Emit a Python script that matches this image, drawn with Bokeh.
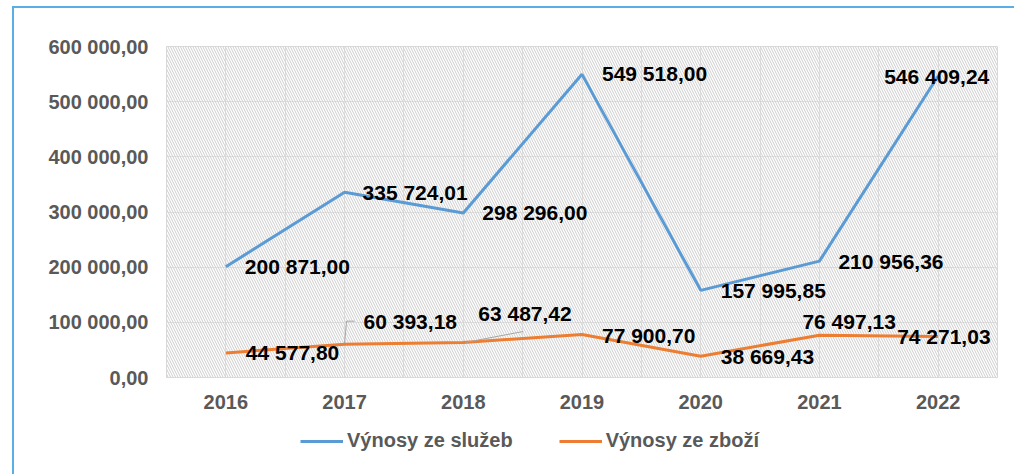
from bokeh.plotting import figure
from bokeh.layouts import column
from bokeh.models import (Range1d, FixedTicker, BoxAnnotation, Legend, LegendItem,
                          ColumnDataSource)
from bokeh.core.properties import value
from bokeh.embed import file_html
from bokeh.resources import INLINE

# ---- data ----
years = [2016, 2017, 2018, 2019, 2020, 2021, 2022]
sluzby = [200871.00, 335724.01, 298296.00, 549518.00, 157995.85, 210956.36, 546409.24]
zbozi = [44577.80, 60393.18, 63487.42, 77900.70, 38669.43, 76497.13, 74271.03]
series_names = ["Výnosy ze služeb", "Výnosy ze zboží"]
y_ticks = [0, 100000, 200000, 300000, 400000, 500000, 600000]
y_tick_labels = ["0,00", "100 000,00", "200 000,00", "300 000,00",
                 "400 000,00", "500 000,00", "600 000,00"]

# label offsets in screen px (dx, dy; dy positive = down)
sl_dx = [19, 18, 19, 20, 20, 19, -54]
sl_dy = [0, 0, 0, -1, 0, 0, 0]
zb_dx = [20, 19, 15, 20, 20, -17, -41]
zb_dy = [0, -23, -29, 1, 0, -14, 0]

BLUE = "#5b9bd5"
ORANGE = "#ed7d31"
GRAY = "#595959"
FONT = "Liberation Sans"


def fmt(v):
    return f"{v:,.2f}".replace(",", " ").replace(".", ",")


W, H = 1000, 410
ML, MR, MT, MB = 152, 17, 38, 41
FW, FH = W - ML - MR, H - MT - MB

p = figure(width=W, height=H, x_range=Range1d(2015.5, 2022.5), y_range=Range1d(0, 600000),
           output_backend="svg", toolbar_location=None,
           min_border_left=ML, min_border_right=MR, min_border_top=MT, min_border_bottom=MB)
p.outline_line_color = "#d9d9d9"
p.background_fill_color = "white"
p.border_fill_color = "white"

hatch = BoxAnnotation(fill_alpha=0, line_color=None, hatch_pattern="\\", hatch_color="#cdcdcd",
                      hatch_scale=5, hatch_weight=1, level="underlay")
p.add_layout(hatch)

# axes
p.xaxis.ticker = FixedTicker(ticks=years)
p.xaxis.axis_line_color = "#d9d9d9"
p.xaxis.major_tick_line_color = None
p.xaxis.minor_tick_line_color = None
p.xaxis.major_label_text_font = FONT
p.xaxis.major_label_text_font_style = "bold"
p.xaxis.major_label_text_font_size = "20px"
p.xaxis.major_label_text_color = GRAY
p.xaxis.major_label_standoff = 11

p.yaxis.ticker = FixedTicker(ticks=y_ticks)
p.yaxis.major_label_overrides = {t: l for t, l in zip(y_ticks, y_tick_labels)}
p.yaxis.axis_line_color = None
p.yaxis.major_tick_line_color = None
p.yaxis.minor_tick_line_color = None
p.yaxis.major_label_text_font = FONT
p.yaxis.major_label_text_font_style = "bold"
p.yaxis.major_label_text_font_size = "20px"
p.yaxis.major_label_text_color = GRAY
p.yaxis.major_label_standoff = 12

p.xgrid.ticker = FixedTicker(ticks=[y + d for y in [2015] + years for d in (0.5, 1.0)])
p.xgrid.grid_line_color = "#e2e2e2"
p.ygrid.grid_line_color = "#e2e2e2"

# lines
r1 = p.line(years, sluzby, line_color=BLUE, line_width=3)
r2 = p.line(years, zbozi, line_color=ORANGE, line_width=3)

# leader lines (pixel offsets converted to data units)
px_x = (2022.5 - 2015.5) / FW
px_y = 600000 / FH
i = 1
p.line([years[i], years[i] + 2 * px_x, years[i] + 10 * px_x],
       [zbozi[i] + 1 * px_y, zbozi[i] + 23 * px_y, zbozi[i] + 23 * px_y],
       line_color="#a6a6a6", line_width=1)
i = 2
p.line([years[i] + 2 * px_x, years[i] + 60 * px_x],
       [zbozi[i], zbozi[i] + 11 * px_y],
       line_color="#a6a6a6", line_width=1)

# data labels
src1 = ColumnDataSource(dict(x=years, y=sluzby, t=[fmt(v) for v in sluzby], dx=sl_dx, dy=sl_dy))
src2 = ColumnDataSource(dict(x=years, y=zbozi, t=[fmt(v) for v in zbozi], dx=zb_dx, dy=zb_dy))
for src in (src1, src2):
    p.text(x="x", y="y", text="t", x_offset="dx", y_offset="dy", source=src,
           text_font=value(FONT), text_font_style="bold", text_font_size="21px",
           text_color="black", text_align="left", text_baseline="middle")

# legend strip (separate figure so the legend is not clipped); its lines lie outside its view
p2 = figure(width=W, height=56, x_range=Range1d(0, 1), y_range=Range1d(0, 1),
            output_backend="svg", toolbar_location=None, min_border=0)
p2.axis.visible = False
p2.grid.visible = False
p2.outline_line_color = None
l1 = p2.line(years, sluzby, line_color=BLUE, line_width=3)
l2 = p2.line(years, zbozi, line_color=ORANGE, line_width=3)
legend = Legend(items=[LegendItem(label=series_names[0], renderers=[l1]),
                       LegendItem(label=series_names[1], renderers=[l2])],
                orientation="horizontal", location=(134, 22),
                label_text_font=FONT, label_text_font_style="bold",
                label_text_font_size="20px", label_text_color=GRAY,
                glyph_width=43, label_standoff=4, spacing=46, padding=0, margin=0,
                border_line_color=None, background_fill_alpha=0)
p2.add_layout(legend, "center")

layout = column(p, p2, spacing=0)
layout.styles = {"border-left": "2px solid #5aaee6", "border-top": "2px solid #5aaee6",
                 "margin-left": "12px", "margin-top": "6px"}

open("out.html", "w").write(file_html(layout, INLINE))
